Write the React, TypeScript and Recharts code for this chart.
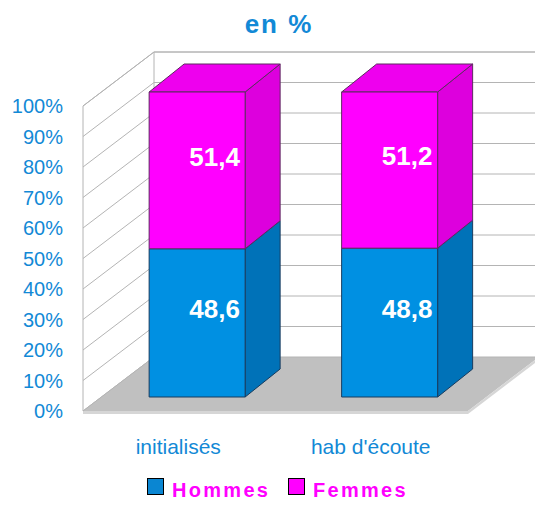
import React from 'react';
import { BarChart, Bar, XAxis, YAxis, CartesianGrid, LabelList } from 'recharts';

const categories = ['initialisés', "hab d'écoute"];
const hommes = [48.6, 48.8];
const femmes = [51.4, 51.2];
const yTicks = [0, 10, 20, 30, 40, 50, 60, 70, 80, 90, 100];

const data = categories.map((name, i) => ({ name, hommes: hommes[i], femmes: femmes[i] }));

// chart box and the fake 3D projection
const W = 535;
const H = 506;
const LEFT = 83;
const RIGHT = 468;
const TOP = 106;
const BOTTOM = 411;
const BDX = 71; // back wall offset
const BDY = -54;
const OX = 18; // bar front offset from front plane
const OY = -14;
const DX = 35; // bar depth
const DY = -28;

const BLUE = '#1289d6';
const GRID = '#b4b4b4';
const FONT = '"Liberation Sans", Arial, sans-serif';

const bar3D = (front: string, side: string, top: string, edge: string, showTop: boolean) =>
  (props: any) => {
    const { x, y, width, height } = props;
    if (width == null || height == null) return null;
    const fx = x + OX;
    const fy = y + OY;
    return (
      <g stroke={edge} strokeWidth={1} strokeLinejoin="round">
        <polygon
          points={`${fx + width},${fy} ${fx + width + DX},${fy + DY} ${fx + width + DX},${fy + height + DY} ${fx + width},${fy + height}`}
          fill={side}
        />
        {showTop && (
          <polygon
            points={`${fx},${fy} ${fx + DX},${fy + DY} ${fx + width + DX},${fy + DY} ${fx + width},${fy}`}
            fill={top}
          />
        )}
        <rect x={fx} y={fy} width={width} height={height} fill={front} />
      </g>
    );
  };

const valueLabel = (props: any) => {
  const vb = props.viewBox && props.viewBox.width != null ? props.viewBox : props;
  const { x, y, width, height } = vb;
  const cx = x + OX + width / 2 + DX / 2;
  const cy = y + OY + height / 2 + DY / 2;
  return (
    <text
      x={cx}
      y={cy}
      dy="0.36em"
      textAnchor="middle"
      fill="#ffffff"
      fontWeight="bold"
      fontSize={26}
      fontFamily={FONT}
    >
      {String(props.value).replace('.', ',')}
    </text>
  );
};

const wallLine = (p: any) => (
  <g key={`wl-${p.index}`} stroke={GRID} strokeWidth={1}>
    <line x1={p.x1} y1={p.y1} x2={p.x1 + BDX} y2={p.y1 + BDY} />
    <line x1={p.x1 + BDX} y1={p.y1 + BDY} x2={W} y2={p.y1 + BDY} />
  </g>
);

const Walls = () => (
  <svg width={W} height={H} style={{ position: 'absolute', left: 0, top: 0 }}>
    <polygon
      points={`${LEFT},${TOP} ${LEFT + BDX},${TOP + BDY} ${LEFT + BDX},${BOTTOM + BDY} ${LEFT},${BOTTOM}`}
      fill="#ffffff"
      stroke={GRID}
    />
    <line x1={LEFT + BDX} y1={TOP + BDY} x2={W} y2={TOP + BDY} stroke={GRID} />
    <polygon
      points={`${LEFT},${BOTTOM} ${RIGHT},${BOTTOM} ${RIGHT + BDX},${BOTTOM + BDY} ${LEFT + BDX},${BOTTOM + BDY}`}
      fill="#c0c0c0"
    />
    <rect x={LEFT} y={BOTTOM} width={RIGHT - LEFT} height={3} fill="#d6d6d6" />
    <polygon
      points={`${RIGHT},${BOTTOM} ${RIGHT + BDX},${BOTTOM + BDY} ${RIGHT + BDX},${BOTTOM + BDY + 3} ${RIGHT},${BOTTOM + 3}`}
      fill="#d6d6d6"
    />
  </svg>
);

const Overlay = () => (
  <svg width={W} height={H} style={{ position: 'absolute', left: 0, top: 0, pointerEvents: 'none' }}>
    <text x={279} y={33} textAnchor="middle" fontSize={26} fontWeight="bold" letterSpacing={2} fill={BLUE} fontFamily={FONT}>
      en %
    </text>
    <rect x={147.5} y={478.5} width={16} height={16} fill="#0a86d2" stroke="#000" />
    <text x={172} y={497} fontSize={20} fontWeight="bold" letterSpacing={2.3} fill="#ff00ff" fontFamily={FONT}>
      Hommes
    </text>
    <rect x={288.5} y={478.5} width={16} height={16} fill="#ff00ff" stroke="#000" />
    <text x={313} y={497} fontSize={20} fontWeight="bold" letterSpacing={2.3} fill="#ff00ff" fontFamily={FONT}>
      Femmes
    </text>
  </svg>
);

export default function App() {
  return (
    <div style={{ position: 'absolute', left: 0, top: 0, width: W, height: H, fontFamily: FONT, background: '#fff' }}>
      <Walls />
      <div style={{ position: 'absolute', left: 0, top: 0 }}>
        <BarChart
          width={W}
          height={H}
          data={data}
          margin={{ top: TOP, right: W - RIGHT, left: 0, bottom: H - BOTTOM - 40 }}
          barCategoryGap="25%"
        >
          <CartesianGrid vertical={false} horizontal={wallLine} />
          <XAxis
            dataKey="name"
            axisLine={false}
            tickLine={false}
            height={40}
            tickSize={6}
            tickMargin={22}
            tick={{ fill: BLUE, fontSize: 21, dx: -1 }}
            interval={0}
          />
          <YAxis
            width={LEFT}
            domain={[0, 100]}
            ticks={yTicks}
            axisLine={false}
            tickLine={false}
            tickSize={6}
            tickMargin={14}
            tick={{ fill: BLUE, fontSize: 20 }}
            tickFormatter={(v: number) => `${v}%`}
          />
          <Bar
            dataKey="hommes"
            stackId="a"
            isAnimationActive={false}
            shape={bar3D('#0090e2', '#0072b8', '#0080cc', '#183c5e', false)}
          >
            <LabelList dataKey="hommes" content={valueLabel} />
          </Bar>
          <Bar
            dataKey="femmes"
            stackId="a"
            isAnimationActive={false}
            shape={bar3D('#ff00ff', '#dd00dd', '#ee00ee', '#5e2a60', true)}
          >
            <LabelList dataKey="femmes" content={valueLabel} />
          </Bar>
        </BarChart>
      </div>
      <Overlay />
    </div>
  );
}
